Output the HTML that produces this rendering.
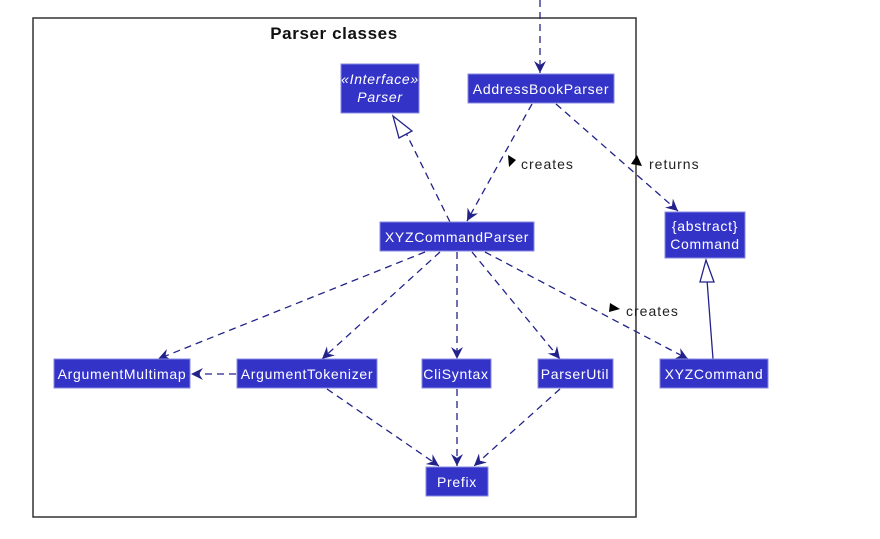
<!DOCTYPE html>
<html><head><meta charset="utf-8"><style>
html,body{margin:0;padding:0;background:#fff;}
svg{display:block;font-family:"Liberation Sans",sans-serif;}
.b{fill:#3333c8;stroke:#8a8ae0;stroke-width:1}
.t{fill:#fff;font-size:14px;text-anchor:middle;letter-spacing:0.7px}
.l{stroke:#22228a;stroke-width:1.3;fill:none;stroke-dasharray:7,5}
.s{stroke:#22228a;stroke-width:1.3;fill:none}
.lab{font-size:14px;fill:#222;letter-spacing:1px}
</style></head><body>
<svg width="880" height="539" viewBox="0 0 880 539">
<defs>
<marker id="a" markerWidth="14" markerHeight="14" refX="12" refY="7" orient="auto" markerUnits="userSpaceOnUse">
<path d="M0,1 L12,7 L0,13 L4,7 Z" fill="#22228a"/></marker>
</defs>
<rect x="33" y="18" width="603" height="499" fill="none" stroke="#333" stroke-width="1.5"/>
<text x="334" y="39" font-size="17" font-weight="bold" text-anchor="middle" fill="#111" letter-spacing="0.6">Parser classes</text>

<line class="l" x1="540" y1="0" x2="540" y2="73" marker-end="url(#a)"/>
<line class="l" x1="532" y1="104" x2="467" y2="221" marker-end="url(#a)"/>
<line class="l" x1="556" y1="104" x2="678" y2="211" marker-end="url(#a)"/>
<line class="l" x1="450" y1="222" x2="403" y2="127"/>
<polygon points="393,116 412,131 399,138" fill="#fff" stroke="#22228a" stroke-width="1.3"/>
<line class="l" x1="425" y1="252" x2="158" y2="359" marker-end="url(#a)"/>
<line class="l" x1="440" y1="252" x2="322" y2="359" marker-end="url(#a)"/>
<line class="l" x1="457" y1="252" x2="457" y2="359" marker-end="url(#a)"/>
<line class="l" x1="472" y1="252" x2="560" y2="359" marker-end="url(#a)"/>
<line class="l" x1="485" y1="252" x2="688" y2="359" marker-end="url(#a)"/>
<line class="l" x1="236" y1="374" x2="191" y2="374" marker-end="url(#a)"/>
<line class="l" x1="327" y1="389" x2="439" y2="466" marker-end="url(#a)"/>
<line class="l" x1="457" y1="389" x2="457" y2="466" marker-end="url(#a)"/>
<line class="l" x1="560" y1="389" x2="474" y2="466" marker-end="url(#a)"/>
<line class="s" x1="713" y1="359" x2="707" y2="280"/>
<polygon points="706,260 700,282 714,282" fill="#fff" stroke="#22228a" stroke-width="1.3"/>

<polygon points="508,155 516,160 509,167" fill="#000"/>
<text class="lab" x="521" y="169">creates</text>
<polygon points="637,155 642,166 631,164" fill="#000"/>
<text class="lab" x="649" y="169">returns</text>
<polygon points="610,303 620,309 609,312" fill="#000"/>
<text class="lab" x="626" y="316">creates</text>

<rect class="b" x="341" y="64" width="78" height="49"/>
<text class="t" x="380" y="84" font-style="italic">«Interface»</text>
<text class="t" x="380" y="102" font-style="italic">Parser</text>
<rect class="b" x="468" y="74" width="146" height="29"/>
<text class="t" x="541" y="94">AddressBookParser</text>
<rect class="b" x="380" y="222" width="154" height="29"/>
<text class="t" x="457" y="242">XYZCommandParser</text>
<rect class="b" x="665" y="212" width="80" height="46"/>
<text class="t" x="705" y="231">{abstract}</text>
<text class="t" x="705" y="249">Command</text>
<rect class="b" x="54" y="359" width="136" height="29"/>
<text class="t" x="122" y="379">ArgumentMultimap</text>
<rect class="b" x="237" y="359" width="140" height="29"/>
<text class="t" x="307" y="379">ArgumentTokenizer</text>
<rect class="b" x="422" y="359" width="69" height="29"/>
<text class="t" x="456" y="379">CliSyntax</text>
<rect class="b" x="538" y="359" width="75" height="29"/>
<text class="t" x="575" y="379">ParserUtil</text>
<rect class="b" x="660" y="359" width="108" height="29"/>
<text class="t" x="714" y="379">XYZCommand</text>
<rect class="b" x="426" y="467" width="62" height="29"/>
<text class="t" x="457" y="487">Prefix</text>
</svg>
</body></html>
